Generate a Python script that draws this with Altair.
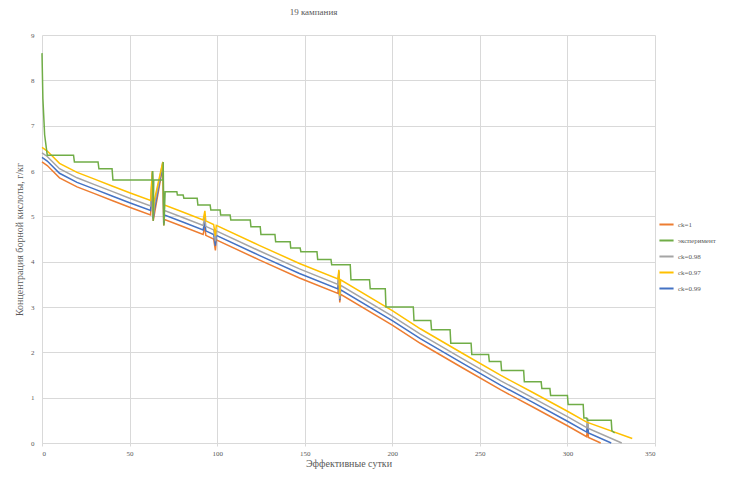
import altair as alt
import pandas as pd

# experiment (эксперимент)
exp_x = [0, 0.5, 1.5, 3, 18, 18.5, 32, 32.5, 40, 40.5, 63, 63.2, 63.5, 63.8, 69, 69.2, 69.6, 70.3,
         77, 77.3, 80.6, 81, 88.6, 89, 96, 96.4, 101.7, 102, 107.4, 107.8, 118.9, 119.3, 124.6, 125,
         133, 133.4, 141.7, 142, 147.4, 147.8, 157, 157.4, 165, 165.4, 176, 176.4, 187, 187.4, 196, 196.4,
         212, 212.4, 222, 222.4, 233, 233.4, 245, 245.4, 255, 255.4, 262, 262.4, 275, 275.4, 285, 285.4,
         290, 290.4, 300, 300.4, 309, 309.4, 311, 311.4, 325, 325.4, 327]
exp_y = [8.6, 7.6, 6.8, 6.35, 6.35, 6.2, 6.2, 6.05, 6.05, 5.8, 5.8, 6.0, 4.9, 5.8, 5.8, 6.2, 4.8, 5.54,
         5.54, 5.47, 5.47, 5.4, 5.4, 5.25, 5.25, 5.14, 5.14, 5.03, 5.03, 4.92, 4.92, 4.77, 4.77, 4.6,
         4.6, 4.44, 4.44, 4.3, 4.3, 4.22, 4.22, 4.05, 4.05, 3.93, 3.93, 3.6, 3.6, 3.4, 3.4, 3.0,
         3.0, 2.7, 2.7, 2.5, 2.5, 2.2, 2.2, 1.95, 1.95, 1.8, 1.8, 1.6, 1.6, 1.35, 1.35, 1.2,
         1.2, 1.05, 1.05, 0.85, 0.85, 0.55, 0.55, 0.5, 0.5, 0.27, 0.22]

# ck = 1
ck1_x = [0, 3, 10, 20, 30, 40, 50, 62, 63, 63.5, 64, 69, 69.5, 70, 80, 92, 93, 93.5, 98, 99, 99.5,
         124, 147, 169, 169.5, 170, 170.5, 200, 216, 240, 262, 280, 300, 311, 311.5, 312, 319]
ck1_y = [6.2, 6.12, 5.85, 5.65, 5.5, 5.35, 5.2, 5.03, 5.9, 4.9, 5.01, 6.1, 4.8, 4.93, 4.78, 4.6, 4.8, 4.58, 4.5, 4.25, 4.48,
         4.04, 3.64, 3.3, 3.75, 3.1, 3.28, 2.6, 2.2, 1.66, 1.17, 0.8, 0.38, 0.14, 0.35, 0.12, 0.0]

# ck = 0.99
ck99_x = [0, 3, 10, 20, 30, 40, 50, 62, 63, 63.5, 64, 69, 69.5, 70, 80, 92, 93, 93.5, 98, 99, 99.5,
          124, 147, 169, 169.5, 170, 170.5, 200, 216, 240, 262, 280, 300, 311, 311.5, 312, 325]
ck99_y = [6.3, 6.22, 5.95, 5.75, 5.6, 5.45, 5.3, 5.13, 5.95, 4.95, 5.11, 6.15, 4.85, 5.03, 4.88, 4.7, 4.9, 4.68, 4.6, 4.35, 4.58,
          4.14, 3.74, 3.4, 3.78, 3.15, 3.38, 2.7, 2.3, 1.76, 1.27, 0.9, 0.48, 0.24, 0.45, 0.22, 0.0]

# ck = 0.98
ck98_x = [0, 3, 10, 20, 30, 40, 50, 62, 63, 63.5, 64, 69, 69.5, 70, 80, 92, 93, 93.5, 98, 99, 99.5,
          124, 147, 169, 169.5, 170, 170.5, 200, 216, 240, 262, 280, 300, 311, 311.5, 312, 331]
ck98_y = [6.4, 6.32, 6.05, 5.85, 5.7, 5.55, 5.4, 5.23, 6.0, 5.0, 5.21, 6.2, 4.9, 5.13, 4.98, 4.8, 5.0, 4.78, 4.7, 4.45, 4.68,
          4.24, 3.84, 3.5, 3.8, 3.18, 3.48, 2.8, 2.4, 1.86, 1.37, 1.0, 0.58, 0.34, 0.55, 0.32, 0.0]

# ck = 0.97
ck97_x = [0, 3, 10, 20, 30, 40, 50, 62, 63, 63.5, 64, 69, 69.5, 70, 80, 92, 93, 93.5, 98, 99, 99.5,
          124, 147, 169, 169.5, 170, 170.5, 200, 216, 240, 262, 280, 300, 311, 337]
ck97_y = [6.52, 6.44, 6.17, 5.97, 5.82, 5.67, 5.52, 5.35, 6.0, 5.05, 5.33, 6.2, 4.95, 5.25, 5.1, 4.92, 5.12, 4.9, 4.82, 4.57, 4.8,
          4.36, 3.96, 3.62, 3.82, 3.25, 3.6, 2.92, 2.52, 1.98, 1.49, 1.12, 0.7, 0.46, 0.1]

series_order = ["ck=1", "эксперимент", "ck=0.98", "ck=0.97", "ck=0.99"]
series_colors = ["#ED7D31", "#70AD47", "#A5A5A5", "#FFC000", "#4472C4"]

rows = []
for name, xs, ys in [("ck=1", ck1_x, ck1_y), ("ck=0.99", ck99_x, ck99_y),
                     ("ck=0.98", ck98_x, ck98_y), ("ck=0.97", ck97_x, ck97_y)]:
    for i, (a, b) in enumerate(zip(xs, ys)):
        rows.append({"series": name, "x": a, "y": b, "i": i})
models = pd.DataFrame(rows)
exp = pd.DataFrame({"series": "эксперимент", "x": exp_x, "y": exp_y, "i": range(len(exp_x))})

font = "Liberation Serif"

color = alt.Color("series:N", sort=series_order,
                  scale=alt.Scale(domain=series_order, range=series_colors),
                  legend=alt.Legend(title=None, orient="none", legendX=616, legendY=181,
                                    symbolType="stroke", symbolSize=200, symbolStrokeWidth=2,
                                    labelFont=font, labelFontSize=7, labelColor="#595959",
                                    rowPadding=3, labelOffset=3))

xenc = alt.X("x:Q", scale=alt.Scale(domain=[0, 350], nice=False),
             axis=alt.Axis(values=[0, 50, 100, 150, 200, 250, 300, 350], title="Эффективные сутки",
                           titleFont=font, titleFontSize=10, titleFontWeight="normal", titleColor="#595959",
                           labelFont=font, labelFontSize=7, labelColor="#595959",
                           gridColor="#D9D9D9", domainColor="#D9D9D9", tickColor="#D9D9D9",
                           tickSize=3, labelPadding=3, titlePadding=2))
yenc = alt.Y("y:Q", scale=alt.Scale(domain=[0, 9], nice=False),
             axis=alt.Axis(values=list(range(10)), title="Концентрация борной кислоты, г/кг",
                           titleFont=font, titleFontSize=10, titleFontWeight="normal", titleColor="#595959",
                           labelFont=font, labelFontSize=7, labelColor="#595959",
                           gridColor="#D9D9D9", domain=False, ticks=False, labelPadding=8, titlePadding=6))

base_models = alt.Chart(models).mark_line(strokeWidth=1.5).encode(
    x=xenc, y=yenc, color=color, order="i:Q", detail="series:N")
base_exp = alt.Chart(exp).mark_line(strokeWidth=1.5).encode(
    x=xenc, y=yenc, color=color, order="i:Q")

chart = alt.layer(base_models, base_exp).properties(
    width=613, height=408,
    title=alt.TitleParams("19 кампания", font=font, fontSize=9, fontWeight="normal",
                          color="#595959", anchor="middle", dx=-35, offset=14),
    autosize=alt.AutoSizeParams(type="none"),
    padding={"left": 34, "top": 27, "right": 76, "bottom": 31},
).configure_view(stroke=None)

chart.save("out.html", embed_options={"renderer": "svg", "actions": False})
